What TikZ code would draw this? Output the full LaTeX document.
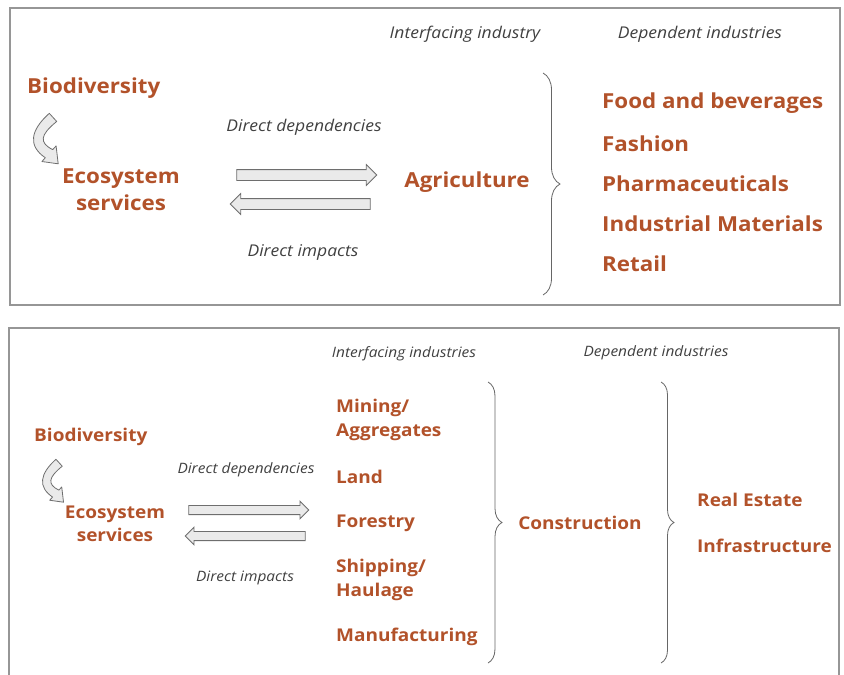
\documentclass[tikz,border=0pt]{standalone}
\usepackage{fontspec}
\setmainfont{Open Sans}[FakeStretch=1.08]
\usetikzlibrary{shapes.arrows,decorations.pathreplacing}
\definecolor{rust}{RGB}{178,82,42}
\definecolor{boxgray}{RGB}{150,150,150}
\definecolor{arrowfill}{RGB}{234,234,234}
\definecolor{arrowline}{RGB}{110,110,110}

\begin{document}
\begin{tikzpicture}
		[   x=1pt, y=-1pt,
			big/.style={font=\bfseries\fontsize{20.7}{27}\selectfont, text=rust, inner sep=0pt},
			mid/.style={font=\bfseries\fontsize{17.6}{23.5}\selectfont, text=rust, inner sep=0pt},
			lbl/.style={font=\itshape\fontsize{16.2}{19}\selectfont, text=black!75, inner sep=0pt},
			smalllbl/.style={font=\itshape\fontsize{14.3}{17}\selectfont, text=black!75, inner sep=0pt},
			boxline/.style={draw=boxgray, line width=1.6pt},
		]
		\tikzset{blockarrow/.style={single arrow, draw=arrowline, fill=arrowfill, line width=0.8pt,
				inner xsep=0pt, inner ysep=#1, single arrow head extend=#1}}
		\tikzset{bracket/.style={draw=black!60, line width=0.8pt, decorate,
				decoration={brace, amplitude=#1}}}
		\tikzset{bendarrow/.pic={
				\path[draw=arrowline, fill=arrowfill, line width=0.8pt, line join=round]
				(22.3,0.3) -- (29.7,7.7) .. controls (13,20) and (12,27) .. (25.7,33.3)
				-- (29.1,29.9) -- (31.2,46.2) -- (14.9,44.1) -- (18.3,40.7)
				.. controls (1,30) and (3,16) .. (22.3,0.3) -- cycle;
		}}
		\useasboundingbox (0,0) rectangle (844,675);
		
		% top panel
		\draw[boxline] (10,8) rectangle (840,305);
		
		\node[lbl] (iface) at (465,34) {Interfacing industry};
		\node[lbl] (dep) at (700,34) {Dependent industries};
		
		\node[big, anchor=west] (bio) at (27,88) {Biodiversity};
		\pic[yscale=1.1] at (27,113) {bendarrow};
		\node[big, align=center] (eco) at (121,190) {Ecosystem\\services};
		
		\node[lbl] (ddep) at (304,127) {Direct dependencies};
		\node[blockarrow=5pt, minimum height=140pt] (fwd) at (304,175) {};
		\node[blockarrow=5pt, minimum height=140pt, shape border rotate=180] (back) at (303,204) {};
		\node[lbl] (dimp) at (303,252) {Direct impacts};
		
		\node[big] (agri) at (467,182) {Agriculture};
		\draw[bracket=17pt] (543,73) -- (543,295);
		
		\foreach \name [count=\i] in {Food and beverages, Fashion, Pharmaceuticals, Industrial Materials, Retail}
		{
			\node[big, anchor=west] (dep-\i) at (602,{103+40.25*(\i-1)}) {\name};
		}
		
		% bottom panel
		\draw[boxline] (9,676) -- (9,328) -- (839,328) -- (839,676);
		
		\node[smalllbl] (iface2) at (404,354) {Interfacing industries};
		\node[smalllbl] (dep2) at (656,353) {Dependent industries};
		
		\node[mid, anchor=west] (bio2) at (34,437) {Biodiversity};
		\pic[scale=0.85, yscale=1.1] at (37,459) {bendarrow};
		\node[mid, align=center] (eco2) at (115,524) {Ecosystem\\services};
		
		\node[smalllbl] (ddep2) at (246,470) {Direct dependencies};
		\node[blockarrow=4.2pt, minimum height=120pt] (fwd2) at (246.5,510) {};
		\node[blockarrow=4.2pt, minimum height=120pt, shape border rotate=180] (back2) at (247.5,536) {};
		\node[smalllbl] (dimp2) at (245,578) {Direct impacts};
		
		\node[mid, anchor=west, align=left] (ind-1) at (336,420) {Mining/\\Aggregates};
		\node[mid, anchor=west] (ind-2) at (336,477) {Land};
		\node[mid, anchor=west] (ind-3) at (336,523) {Forestry};
		\node[mid, anchor=west, align=left] (ind-4) at (336,580) {Shipping/\\Haulage};
		\node[mid, anchor=west] (ind-5) at (336,637) {Manufacturing};
		
		\draw[bracket=14pt] (488,382) -- (488,663);
		\node[mid] (cons) at (580,523) {Construction};
		\draw[bracket=13pt] (661,382) -- (661,663);
		
		\node[mid, anchor=west] (real) at (697,500) {Real Estate};
		\node[mid, anchor=west] (infra) at (697,546) {Infrastructure};
		
\end{tikzpicture}
\end{document}
